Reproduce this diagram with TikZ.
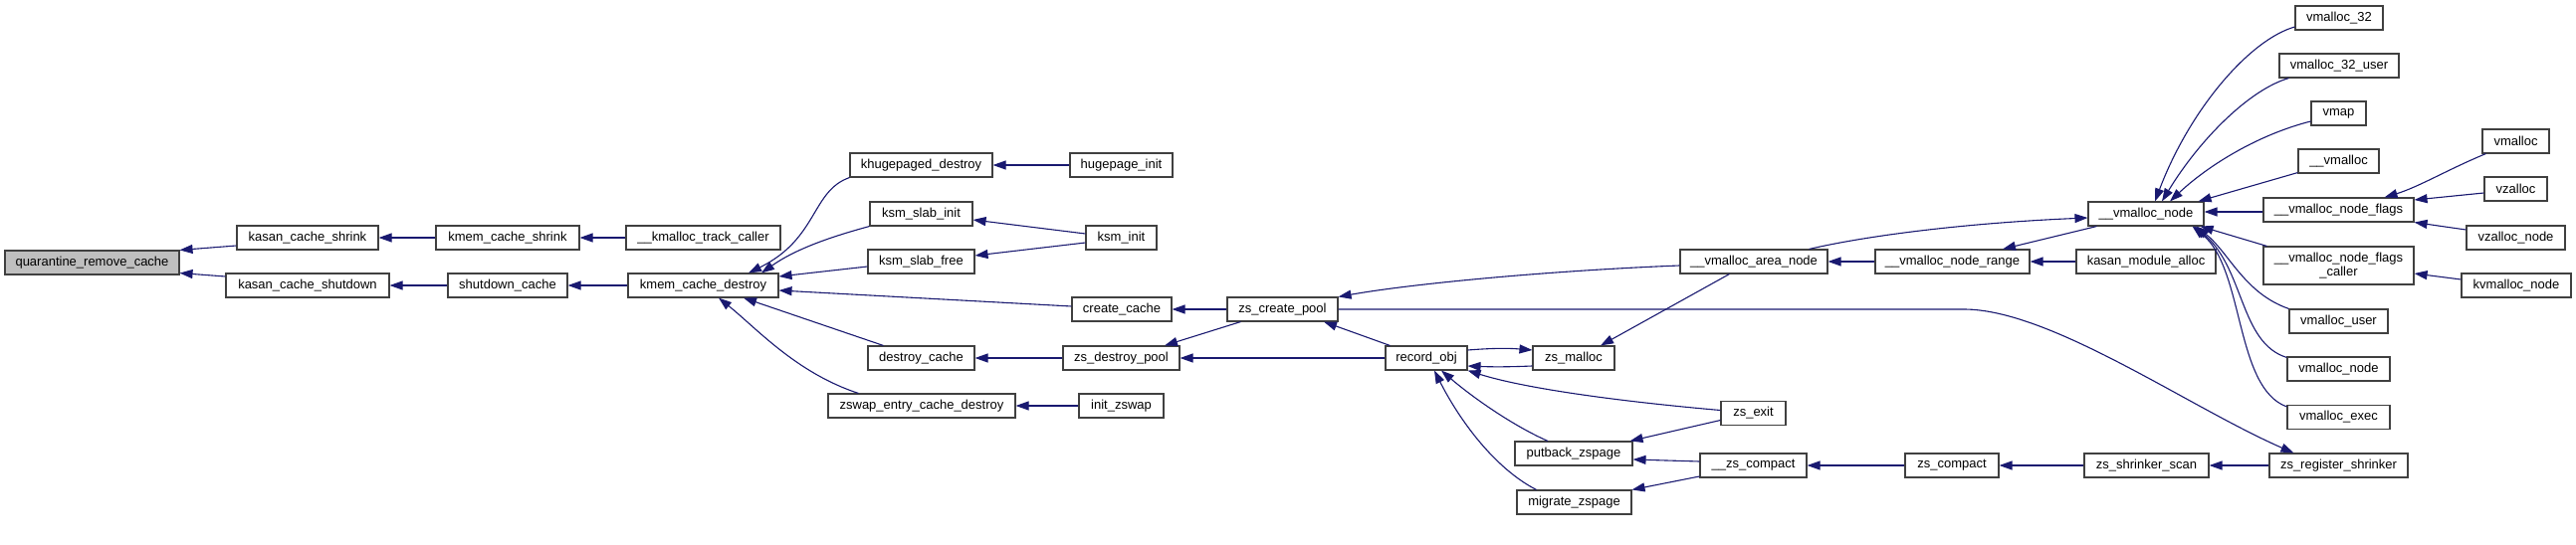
\documentclass[tikz,border=0pt]{standalone}
\usepackage{fontspec}
\setmainfont{Liberation Sans}
\usetikzlibrary{arrows.meta,calc}
\definecolor{midblue}{HTML}{191970}
\definecolor{rootgray}{HTML}{BFBFBF}
\definecolor{boxline}{HTML}{404040}
\begin{document}
\begin{tikzpicture}[x=1pt,y=-1pt,
  box/.style={draw=boxline, line width=1.1pt, fill=white, inner sep=0pt,
    minimum height=24pt, font=\fontsize{13}{14}\selectfont, align=center},
  link/.style={draw=midblue, line width=1.1pt, -{Triangle[length=13pt,width=9pt]}}]
\useasboundingbox[fill=white] (0,0) rectangle (2588,548);
% nodes
\node[box,minimum width=175pt,fill=rootgray] (qrc) at (92.5,264) {quarantine\_remove\_cache};
\node[box,minimum width=142pt] (kcs) at (309,239) {kasan\_cache\_shrink};
\node[box,minimum width=164pt] (kcsd) at (309,287) {kasan\_cache\_shutdown};
\node[box,minimum width=144pt] (kmcs) at (510,239) {kmem\_cache\_shrink};
\node[box,minimum width=155pt] (kmtc) at (706.5,239) {\_\_kmalloc\_track\_caller};
\node[box,minimum width=120pt] (sc) at (510,287) {shutdown\_cache};
\node[box,minimum width=151pt] (kmcd) at (706.5,287) {kmem\_cache\_destroy};
\node[box,minimum width=143pt] (khd) at (925.5,166) {khugepaged\_destroy};
\node[box,minimum width=103pt] (hpi) at (1126.5,166) {hugepage\_init};
\node[box,minimum width=103pt] (ksi) at (925.5,215) {ksm\_slab\_init};
\node[box,minimum width=71pt] (ksmi) at (1126.5,239) {ksm\_init};
\node[box,minimum width=107pt] (ksf) at (925.5,263) {ksm\_slab\_free};
\node[box,minimum width=100pt] (cc) at (1127,311) {create\_cache};
\node[box,minimum width=107pt] (dc) at (925.5,360) {destroy\_cache};
\node[box,minimum width=117pt] (zdp) at (1126.5,360) {zs\_destroy\_pool};
\node[box,minimum width=188pt] (zecd) at (926,408) {zswap\_entry\_cache\_destroy};
\node[box,minimum width=85pt] (iz) at (1126.5,408) {init\_zswap};
\node[box,minimum width=111pt] (zcp) at (1288.5,311) {zs\_create\_pool};
\node[box,minimum width=82pt] (ro) at (1433,360) {record\_obj};
\node[box,minimum width=82pt] (zm) at (1581,360) {zs\_malloc};
\node[box,minimum width=118pt] (pz) at (1581,456) {putback\_zspage};
\node[box,minimum width=115pt] (mz) at (1581.5,505) {migrate\_zspage};
\node[box,minimum width=148pt] (van) at (1762,263) {\_\_vmalloc\_area\_node};
\node[box,minimum width=65pt] (ze) at (1761.5,415.5) {zs\_exit};
\node[box,minimum width=107pt] (zsc) at (1761.5,468) {\_\_zs\_compact};
\node[box,minimum width=155pt] (vnr) at (1961.5,263) {\_\_vmalloc\_node\_range};
\node[box,minimum width=94pt] (zcomp) at (1961,468) {zs\_compact};
\node[box,minimum width=116pt] (vn) at (2156,215) {\_\_vmalloc\_node};
\node[box,minimum width=140pt] (kma) at (2156,263) {kasan\_module\_alloc};
\node[box,minimum width=125pt] (zss) at (2156.5,468) {zs\_shrinker\_scan};
\node[box,minimum width=88pt] (v32) at (2350,18) {vmalloc\_32};
\node[box,minimum width=120pt] (v32u) at (2350,66) {vmalloc\_32\_user};
\node[box,minimum width=55pt] (vmap) at (2349.5,114) {vmap};
\node[box,minimum width=81pt] (uvm) at (2349.5,162) {\_\_vmalloc};
\node[box,minimum width=151pt] (vnf) at (2349.5,211) {\_\_vmalloc\_node\_flags};
\node[box,minimum width=151pt,minimum height=38pt] (vnfc) at (2349.5,267) {\_\_vmalloc\_node\_flags\\\_caller};
\node[box,minimum width=99pt] (vu) at (2349.5,323) {vmalloc\_user};
\node[box,minimum width=103pt] (vnode) at (2349.5,371) {vmalloc\_node};
\node[box,minimum width=103pt] (vexec) at (2349.5,419.5) {vmalloc\_exec};
\node[box,minimum width=139pt] (zrs) at (2349.5,468) {zs\_register\_shrinker};
\node[box,minimum width=67pt] (vmalloc) at (2527.5,142) {vmalloc};
\node[box,minimum width=63pt] (vzalloc) at (2527.5,190) {vzalloc};
\node[box,minimum width=99pt] (vzn) at (2527.5,239) {vzalloc\_node};
\node[box,minimum width=110pt] (kvn) at (2528,287) {kvmalloc\_node};
% edges
\draw[link] ($(kcs.west)+(0,8)$) -- (qrc.north east);
\draw[link] ($(kcsd.west)+(0,-9)$) -- ($(qrc.south east)+(0,-2)$);
\draw[link] (kmcs.west) -- (kcs.east);
\draw[link] (sc.west) -- (kcsd.east);
\draw[link] (kmtc.west) -- (kmcs.east);
\draw[link] (kmcd.west) -- (sc.east);
\draw[link] (khd.south west) .. controls (815,192) and (822,240) .. ($(kmcd.north)+(45.5,0)$);
\draw[link] (ksi.south west) .. controls (835,238) and (800,250) .. ($(kmcd.north)+(58.5,0)$);
\draw[link] ($(ksf.west)+(0,5)$) -- ($(kmcd.east)+(0,-9)$);
\draw[link] ($(cc.west)+(0,-3)$) -- ($(kmcd.east)+(0,5)$);
\draw[link] ($(dc.north west)+(16,0)$) -- ($(kmcd.south)+(40.5,0)$);
\draw[link] ($(zecd.north west)+(31,0)$) .. controls (800,375) and (760,330) .. ($(kmcd.south)+(15.5,0)$);
\draw[link] (hpi.west) -- (khd.east);
\draw[link] ($(ksmi.west)+(0,-4)$) -- ($(ksi.east)+(0,6)$);
\draw[link] ($(ksmi.west)+(0,5)$) -- ($(ksf.east)+(0,-6)$);
\draw[link] (zcp.west) -- (cc.east);
\draw[link] (zdp.west) -- (dc.east);
\draw[link] (iz.west) -- (zecd.east);
\draw[link] ($(zcp.south west)+(14,0)$) -- ($(zdp.north)+(43.5,0)$);
\draw[link] (ro.west) -- (zdp.east);
\draw[link] ($(ro.north west)+(5,0)$) -- ($(zcp.south)+(41.5,0)$);
\draw[link] ($(van.west)+(0,4)$) .. controls (1560,272) and (1420,285) .. (zcp.north east);
\draw[link] (zcp.east) -- (1973,311) .. controls (2060,311) and (2200,410) .. ($(zrs.north west)+(25,0)$);
\draw[link] ($(ro.east)+(0,-8)$) .. controls (1500,350) and (1515,350) .. ($(zm.west)+(0,-8)$);
\draw[link] ($(zm.west)+(0,8)$) .. controls (1515,369) and (1500,369) .. ($(ro.east)+(0,8)$);
\draw[link] ($(van.south west)+(50,0)$) -- ($(zm.north)+(27,0)$);
\draw[link] ($(ze.west)+(0,-3)$) .. controls (1620,403) and (1530,390) .. (ro.south east);
\draw[link] ($(ze.west)+(0,7)$) -- ($(pz.north east)+(-3,0)$);
\draw[link] ($(pz.north)+(-26,0)$) .. controls (1520,428) and (1480,400) .. ($(ro.south)+(15,0)$);
\draw[link] ($(mz.north)+(-38,0)$) .. controls (1500,470) and (1465,420) .. ($(ro.south)+(8,0)$);
\draw[link] ($(zsc.west)+(0,-4)$) -- ($(pz.east)+(0,6)$);
\draw[link] ($(zsc.west)+(0,11)$) -- (mz.north east);
\draw[link] (zcomp.west) -- (zsc.east);
\draw[link] (zss.west) -- (zcomp.east);
\draw[link] (zrs.west) -- (zss.east);
\draw[link] ($(van.north east)+(-19,0)$) .. controls (1880,236) and (1980,224) .. ($(vn.west)+(0,4)$);
\draw[link] (vnr.west) -- (van.east);
\draw[link] ($(vn.south west)+(9,0)$) -- ($(vnr.north)+(50.5,0)$);
\draw[link] (kma.west) -- (vnr.east);
\draw[link] ($(v32.west)+(0,9)$) .. controls (2260,40) and (2200,110) .. ($(vn.north)+(9,0)$);
\draw[link] ($(v32u.south west)+(10,0)$) .. controls (2260,90) and (2210,140) .. ($(vn.north)+(16,0)$);
\draw[link] ($(vmap.west)+(0,8)$) .. controls (2270,135) and (2220,165) .. ($(vn.north)+(24,0)$);
\draw[link] ($(uvm.south west)+(0,-1)$) -- ($(vn.north east)+(-6,0)$);
\draw[link] ($(vnf.west)+(0,2)$) -- ($(vn.east)+(0,-2)$);
\draw[link] ($(vnfc.north west)+(4,0)$) -- ($(vn.south east)+(-4,0)$);
\draw[link] (vu.north west) .. controls (2255,295) and (2240,255) .. ($(vn.south east)+(-8,0)$);
\draw[link] ($(vnode.north west)+(0,1)$) .. controls (2250,345) and (2255,270) .. ($(vn.south east)+(-10,0)$);
\draw[link] ($(vexec.north west)+(0,2)$) .. controls (2245,390) and (2255,270) .. ($(vn.south east)+(-12,0)$);
\draw[link] ($(vmalloc.south west)+(4,0)$) .. controls (2460,170) and (2430,188) .. ($(vnf.north east)+(-30,0)$);
\draw[link] ($(vzalloc.west)+(0,4)$) -- ($(vnf.east)+(0,-10)$);
\draw[link] ($(vzn.west)+(0,-8)$) -- (vnf.south east);
\draw[link] ($(kvn.west)+(0,-6)$) -- ($(vnfc.east)+(0,8)$);
\end{tikzpicture}
\end{document}
